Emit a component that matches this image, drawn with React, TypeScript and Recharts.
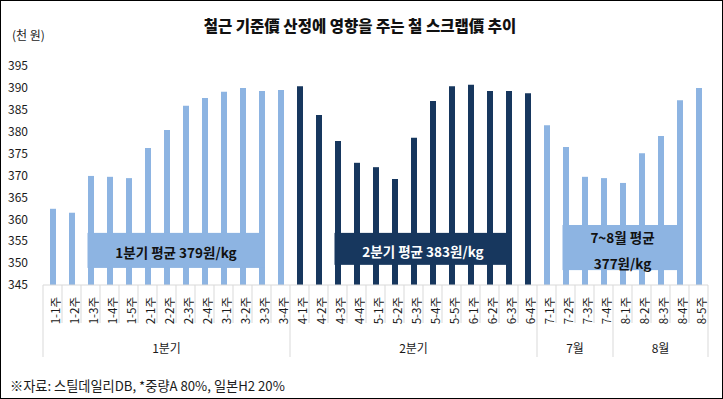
import React from 'react';
import { BarChart, Bar, XAxis, YAxis, Cell, ReferenceArea } from 'recharts';

// ---- data ----
const weeks = [
  '1-1주', '1-2주', '1-3주', '1-4주', '1-5주', '2-1주', '2-2주', '2-3주', '2-4주', '3-1주', '3-2주', '3-3주', '3-4주',
  '4-1주', '4-2주', '4-3주', '4-4주', '5-1주', '5-2주', '5-3주', '5-4주', '5-5주', '6-1주', '6-2주', '6-3주', '6-4주',
  '7-1주', '7-2주', '7-3주', '7-4주',
  '8-1주', '8-2주', '8-3주', '8-4주', '8-5주',
];
const prices = [
  362.4, 361.5, 369.9, 369.7, 369.4, 376.3, 380.4, 385.9, 387.7, 389.1, 390.0, 389.3, 389.5,
  390.4, 383.8, 377.9, 372.9, 371.9, 369.2, 378.6, 387.0, 390.4, 390.7, 389.3, 389.3, 388.8,
  381.5, 376.5, 369.7, 369.4,
  368.3, 375.1, 379.0, 387.2, 390.0,
];
const groupNames = ['1분기', '2분기', '7월', '8월'];
const groupSizes = [13, 13, 4, 5];
const groupHighlighted = [false, true, false, false];
const yTicks = [345, 350, 355, 360, 365, 370, 375, 380, 385, 390, 395];

const boxFrom = ['1-3주', '4-3주', '7-2주'];
const boxTo = ['3-3주', '6-3주', '8-4주'];
const boxLow = [348.9, 349.6, 348.4];
const boxHigh = [356.9, 356.9, 358.7];
const boxLines = [['1분기 평균 379원/kg'], ['2분기 평균 383원/kg'], ['7~8월 평균', '377원/kg']];
const boxDark = [false, true, false];

const title = '철근 기준價 산정에 영향을 주는 철 스크랩價 추이';
const unitLabel = '(천 원)';
const sourceNote = '※자료: 스틸데일리DB, *중량A 80%, 일본H2 20%';

// ---- layout / style ----
const W = 723;
const H = 399;
const MARGIN = { top: 66, right: 15, bottom: 0, left: 0 };
const Y_AXIS_W = 43;
const X_AXIS_H = 114;
const BAND = (W - MARGIN.left - MARGIN.right - Y_AXIS_W) / weeks.length;
const BAR = 6;
const LIGHT = '#8DB4E2';
const NAVY = '#17375E';
const GRID = '#D9D9D9';
const TEXT = '#1a1a1a';
const FONT = '"Noto Sans CJK KR", "Noto Sans", sans-serif';

const groupStarts: number[] = [];
const groupOf: number[] = [];
{
  let s = 0;
  groupSizes.forEach((n, g) => {
    groupStarts.push(s);
    for (let k = 0; k < n; k++) groupOf.push(g);
    s += n;
  });
}

const data = weeks.map((w, i) => ({ week: w, price: prices[i] }));

const WeekTick = (props: any) => {
  const { x, y, payload } = props;
  const i: number = payload.index;
  const left = x - BAND / 2;
  const gi = groupStarts.indexOf(i);
  const isStart = gi >= 0;
  return (
    <g>
      <line x1={left} x2={left} y1={y} y2={y + (isStart ? 72 : 38)} stroke={GRID} strokeWidth={1} />
      {i === weeks.length - 1 && (
        <line x1={x + BAND / 2} x2={x + BAND / 2} y1={y} y2={y + 72} stroke={GRID} strokeWidth={1} />
      )}
      <text
        transform={`translate(${x + 2},${y + 12}) rotate(-90)`}
        textAnchor="end"
        dominantBaseline="central"
        fontSize={11.5}
        fontFamily={FONT}
        fill={TEXT}
      >
        {payload.value}
      </text>
      {isStart && (
        <text
          x={x + ((groupSizes[gi] - 1) / 2) * BAND}
          y={y + 62}
          textAnchor="middle"
          dominantBaseline="central"
          fontSize={12}
          fontFamily={FONT}
          fill={TEXT}
        >
          {groupNames[gi]}
        </text>
      )}
    </g>
  );
};

const makeBox = (k: number) => (p: any) => {
  const inset = (BAND - BAR) / 2;
  const x = p.x + inset;
  const w = p.width - 2 * inset;
  const lines = boxLines[k];
  const cx = x + w / 2;
  const cy = p.y + p.height / 2 + 2;
  return (
    <g>
      <rect x={x} y={p.y} width={w} height={p.height} fill={boxDark[k] ? NAVY : LIGHT} />
      {lines.map((t, j) => (
        <text
          key={j}
          x={cx}
          y={cy + (j - (lines.length - 1) / 2) * 26}
          textAnchor="middle"
          dominantBaseline="central"
          fontSize={13.5}
          fontWeight="bold"
          fontFamily={FONT}
          fill={boxDark[k] ? '#FFFFFF' : '#111111'}
        >
          {t}
        </text>
      ))}
    </g>
  );
};

export default function App() {
  return (
    <div style={{ position: 'absolute', left: 0, top: 0, width: W, height: H, background: '#fff', fontFamily: FONT }}>
      <BarChart width={W} height={H} data={data} margin={MARGIN}>
        <XAxis
          dataKey="week"
          interval={0}
          tickLine={false}
          tickSize={0}
          tickMargin={0}
          height={X_AXIS_H}
          axisLine={{ stroke: GRID }}
          tick={<WeekTick />}
        />
        <YAxis
          domain={[345, 395]}
          ticks={yTicks}
          allowDataOverflow
          width={Y_AXIS_W}
          axisLine={false}
          tickLine={false}
          tickSize={0}
          tickMargin={15}
          tick={{ fontSize: 12, fill: TEXT, fontFamily: FONT }}
        />
        <Bar dataKey="price" barSize={BAR} isAnimationActive={false}>
          {data.map((d, i) => (
            <Cell key={d.week} fill={groupHighlighted[groupOf[i]] ? NAVY : LIGHT} />
          ))}
        </Bar>
        {boxFrom.map((f, k) => (
          <ReferenceArea
            key={f}
            x1={f}
            x2={boxTo[k]}
            y1={boxLow[k]}
            y2={boxHigh[k]}
            zIndex={1500}
            shape={makeBox(k)}
          />
        ))}
      </BarChart>
      <div
        style={{
          position: 'absolute', left: 0, top: 14, width: 720, textAlign: 'center',
          fontSize: 15.5, fontWeight: 900, color: '#111', lineHeight: '22px',
        }}
      >
        {title}
      </div>
      <div style={{ position: 'absolute', left: 12, top: 27, fontSize: 12, color: TEXT, lineHeight: '16px' }}>
        {unitLabel}
      </div>
      <div style={{ position: 'absolute', left: 10, top: 377, fontSize: 13.2, color: TEXT, lineHeight: '18px' }}>
        {sourceNote}
      </div>
      <div
        style={{
          position: 'absolute', left: 0, top: 0, width: W, height: H, boxSizing: 'border-box',
          border: '1.5px solid #000', pointerEvents: 'none',
        }}
      />
    </div>
  );
}
